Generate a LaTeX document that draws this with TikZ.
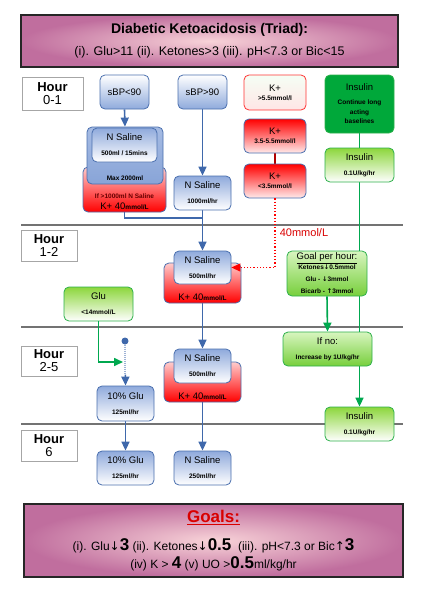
\documentclass[tikz,border=0pt]{standalone}
\usepackage{fontspec}
\setmainfont{Liberation Sans}
\newfontfamily\arrowfont{DejaVu Sans}
\usepackage{tikz}
\usetikzlibrary{arrows.meta}

\definecolor{salineblue}{HTML}{8FAADC}
\definecolor{edgeblue}{HTML}{4A6FAE}
\definecolor{lineblue}{HTML}{3F68AB}
\definecolor{darkgreen}{HTML}{00A83A}
\definecolor{lightgreen}{HTML}{8CD63C}
\definecolor{edgegreen}{HTML}{2DB04B}
\definecolor{linegreen}{HTML}{00A84F}
\definecolor{paleline}{HTML}{D8F5C0}
\definecolor{mauve}{HTML}{C06E9E}
\definecolor{blush}{HTML}{F8D3D8}

\newcommand{\hdtxt}[1]{{\fontsize{9.5}{10}\selectfont #1}}
\newcommand{\smtxt}[1]{{\fontsize{6.5}{7.5}\selectfont\bfseries #1}}
\newcommand{\bignum}[1]{{\fontsize{17}{12}\selectfont\bfseries #1}}
\newcommand{\dn}{{\arrowfont\symbol{"2193}}}
\newcommand{\up}{{\arrowfont\symbol{"2191}}}

\pgfdeclarelayer{bg}
\pgfsetlayers{bg,main}

\tikzset{
  box/.style={rectangle, rounded corners=5pt, line width=0.8pt, align=center, inner sep=1pt, font=\fontsize{9.5}{10}\selectfont},
  bluebox/.style={box, draw=edgeblue, top color=salineblue, bottom color=white},
  bluerev/.style={box, draw=edgeblue, top color=white, bottom color=salineblue},
  redbox/.style={box, draw=edgeblue, top color=red!20, bottom color=red},
  redrev/.style={box, draw=edgeblue, top color=red, bottom color=red!8},
  greenbox/.style={box, draw=edgegreen, top color=lightgreen, bottom color=white},
  greenrev/.style={box, draw=edgegreen, top color=paleline, bottom color=lightgreen!85!darkgreen},
  hourbox/.style={rectangle, draw=black!35, line width=1pt, fill=white, align=center, inner sep=1pt, font=\fontsize{13}{13}\selectfont},
  banner/.style={rectangle, draw=black!85, line width=1.5pt, inner color=blush, outer color=mauve, align=center},
  sepline/.style={draw=black!55, line width=1.2pt},
  blueline/.style={draw=lineblue, line width=1.6pt},
  greenline/.style={draw=linegreen, line width=1.6pt},
}

\begin{document}
\begin{tikzpicture}[x=1pt, y=-1pt]
\useasboundingbox (0,0) rectangle (424,600);

% headline
\node at (209.5,41)[banner, minimum width=377pt, minimum height=52pt] (title)
  {{\fontsize{14}{15}\selectfont\bfseries Diabetic Ketoacidosis (Triad):}\\[10pt]
   {\fontsize{12.5}{13}\selectfont (i). Glu>11 (ii). Ketones>3 (iii). pH<7.3 or Bic<15}};

% hours
\node at (52.5,93.5)[hourbox, minimum width=61pt, minimum height=33pt] (h01) {\textbf{Hour}\\0-1};
\node at (49,245.5)[hourbox, minimum width=56pt, minimum height=31pt] (h12) {\textbf{Hour}\\1-2};
\node at (49,361)[hourbox, minimum width=56pt, minimum height=30pt] (h25) {\textbf{Hour}\\2-5};
\node at (49,445.5)[hourbox, minimum width=56pt, minimum height=31pt] (h6) {\textbf{Hour}\\6};

% top row
\node at (124.5,92)[bluerev, minimum width=49pt, minimum height=34pt] (sbplow) {sBP<90};
\node at (202.5,92)[bluerev, minimum width=49pt, minimum height=34pt] (sbphigh) {sBP>90};
\node at (275,92.5)[box, draw=red!80, top color=black!4!green!4!white, bottom color=red!10, minimum width=62pt, minimum height=35pt] (khigh) {K+\\[-1pt]\smtxt{>5.5mmol/l}};
\node at (359.5,104)[box, draw=edgegreen, fill=darkgreen, minimum width=69pt, minimum height=58pt] (instop)
  {Insulin\\[4pt]\smtxt{Continue long}\\[-0.5pt]\smtxt{acting}\\[-0.5pt]\smtxt{baselines}};

% potassium
\node at (275,136)[redrev, minimum width=62pt, minimum height=34pt] (kmid) {K+\\[-1pt]\smtxt{3.5-5.5mmol/l}};
\node at (275,181)[redrev, minimum width=62pt, minimum height=34pt] (klow) {K+\\[-1pt]\smtxt{<3.5mmol/l}};
\node at (359.5,165)[greenbox, minimum width=69pt, minimum height=34pt] (insrate) {Insulin\\[5pt]\smtxt{0.1U/kg/hr}};

% hour 0-1 saline
\node at (124.5,189.5)[redbox, minimum width=83pt, minimum height=45pt] (nsred) {};
\node[above, inner sep=3pt, align=center] at (nsred.south) (nsredtxt)
  {{\color{red!40!black}\smtxt{If >1000ml N Saline}}\\[-1pt]\hdtxt{K+ 40}\smtxt{mmol/L}};
\node at (125,155.5)[box, draw=edgeblue, top color=salineblue!80, bottom color=salineblue!90!edgeblue, minimum width=76pt, minimum height=57pt] (nsmax) {};
\node[above, inner sep=4pt] at (nsmax.south) (nsmaxtxt) {\smtxt{Max 2000ml}};
\node at (124.5,145)[bluebox, minimum width=65pt, minimum height=34pt] (nsbolus) {N Saline\\[5pt]\smtxt{500ml / 15mins}};
\node at (202.5,193)[bluebox, minimum width=57pt, minimum height=34pt] (nsfast) {N Saline\\[5pt]\smtxt{1000ml/hr}};

% hour 1-2
\node at (202.5,283)[redbox, minimum width=77pt, minimum height=40pt] (kred12) {};
\node[above, inner sep=3pt] at (kred12.south) (kred12txt) {\hdtxt{K+ 40}\smtxt{mmol/L}};
\node at (202.5,267.5)[bluebox, minimum width=57pt, minimum height=33pt] (ns12) {N Saline\\[5pt]\smtxt{500ml/hr}};
\node at (98.5,304)[greenbox, minimum width=69pt, minimum height=34pt] (glu) {Glu\\[5pt]\smtxt{<14mmol/L}};
\node at (327,273.5)[greenrev, minimum width=80pt, minimum height=45pt] (goal)
  {\underline{Goal per hour:}\\[0pt]\smtxt{Ketones\dn0.5mmol}\\[2pt]\smtxt{Glu - \dn3mmol}\\[2pt]\smtxt{Bicarb - \up3mmol}};

% hour 2-5
\node at (202.5,382)[redbox, minimum width=77pt, minimum height=40pt] (kred25) {};
\node[above, inner sep=3pt] at (kred25.south) (kred25txt) {\hdtxt{K+ 40}\smtxt{mmol/L}};
\node at (202.5,366)[bluebox, minimum width=57pt, minimum height=34pt] (ns25) {N Saline\\[5pt]\smtxt{500ml/hr}};
\node at (125,341)[circle, fill=lineblue, inner sep=0pt, minimum size=7pt] (dot) {};
\node at (125.5,403.5)[bluebox, minimum width=57pt, minimum height=35pt] (dex25) {10\% Glu\\[5pt]\smtxt{125ml/hr}};
\node at (327.5,349)[greenrev, minimum width=89pt, minimum height=34pt] (ifno) {If no:\\[5pt]\smtxt{Increase by 1U/kg/hr}};
\node at (359.5,424)[greenbox, minimum width=69pt, minimum height=34pt] (insend) {Insulin\\[5pt]\smtxt{0.1U/kg/hr}};

% hour 6
\node at (125.5,468)[bluebox, minimum width=57pt, minimum height=34pt] (dex6) {10\% Glu\\[5pt]\smtxt{125ml/hr}};
\node at (202.5,468)[bluebox, minimum width=57pt, minimum height=34pt] (ns6) {N Saline\\[5pt]\smtxt{250ml/hr}};

% goals
\node at (213.5,540.5)[banner, minimum width=379pt, minimum height=73pt, font=\fontsize{12}{18}\selectfont] (goals)
  {{\fontsize{17}{18}\selectfont\bfseries\color{red!85!black}\underline{Goals:}}\\[10pt]
   (i). Glu\dn\bignum{3} (ii). Ketones\dn\bignum{0.5} \ (iii). pH<7.3 or Bic\up\bignum{3}\\
   (iv) K > \bignum{4} (v) UO >\bignum{0.5}ml/kg/hr};

\coordinate (join) at (202.5,218);
\coordinate (gluin) at (123,362);
\node at (304,233)[text=red!85!black, font=\fontsize{11}{12}\selectfont] (klabel) {40mmol/L};

\begin{pgfonlayer}{bg}
\draw[sepline] (21,225) -- (403,225);
\draw[sepline] (21,327) -- (403,327);
\draw[sepline] (21,424) -- (403,424);
\begin{scope}[>={Triangle[length=9pt,width=8pt]}]
  \draw[blueline, ->] (sbplow.south) -- (nsmax.north);
  \draw[blueline, ->] (sbphigh.south) -- (nsfast.north);
  \draw[blueline] (nsred.south) |- (join);
  \draw[blueline, ->] (nsfast.south) -- (ns12.north);
  \draw[blueline, ->] (kred12.south) -- (ns25.north);
  \draw[blueline, ->] (kred25.south) -- (ns6.north);
  \draw[blueline, ->] (dex25.south) -- (dex6.north);
  \draw[greenline] (instop.south) -- (insrate.north);
  \draw[greenline] (insrate.south) -- (insrate.south |- ifno.north);
  \draw[greenline, ->] (goal.south) -- (ifno.north);
  \draw[greenline, ->] (insend.north |- ifno.south) -- (insend.north);
  \draw[draw=red!70!black, line width=1.2pt] (kmid.south) -- (klow.north);
\end{scope}
\end{pgfonlayer}

\begin{scope}[>={Triangle[length=9pt,width=8pt]}]
  \draw[draw=lineblue!50, line width=2pt, dash pattern=on 1pt off 1pt] (dot.south) -- ++(0,30);
  \draw[blueline, ->, shorten <=30pt] (dot.south) -- (dex25.north);
  \draw[greenline, ->] (glu.south) |- (gluin);
  \draw[red, line width=1.2pt, dotted, ->] (klow.south) |- (ns12.east);
\end{scope}

\end{tikzpicture}
\end{document}
